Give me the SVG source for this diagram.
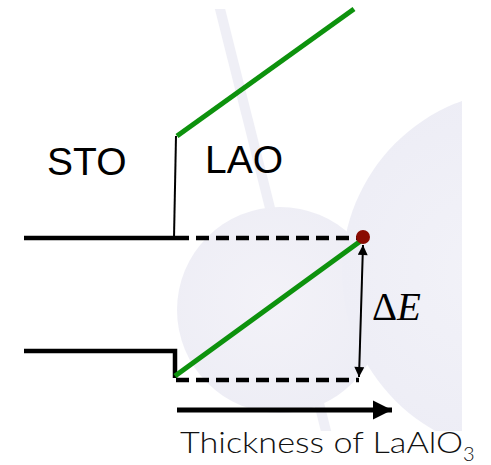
<svg xmlns="http://www.w3.org/2000/svg" width="491" height="465" viewBox="0 0 491 465">
<defs>
<style>
.band{stroke:#efeff6;stroke-width:10;fill:none}
.lvl{stroke:#000;stroke-width:4.5;fill:none}
.dash{stroke:#000;stroke-width:4.5;fill:none;stroke-dasharray:13 7}
.thin{stroke:#000;stroke-width:2;fill:none}
.grn{stroke:#0d920d;stroke-width:5;fill:none}
.lbl{font-family:"Liberation Sans",Arial,sans-serif;font-size:39px;fill:#000}
.ax{font-family:Lato,"Open Sans",sans-serif;font-size:30px;font-weight:300;fill:#111}
.de{font-family:"Liberation Serif","Times New Roman",serif;font-size:39px;fill:#000}
</style>
<clipPath id="clipbg"><rect x="0" y="9" width="462" height="422"/></clipPath>
<radialGradient id="gs" cx="0.45" cy="0.45" r="0.6">
<stop offset="0" stop-color="#f3f2f8"/><stop offset="1" stop-color="#ededf5"/>
</radialGradient>
<radialGradient id="gb" cx="0.4" cy="0.5" r="0.6">
<stop offset="0" stop-color="#f2f2f8"/><stop offset="1" stop-color="#ececf5"/>
</radialGradient>
<marker id="ah" viewBox="0 0 10 10" refX="10" refY="5" markerWidth="14" markerHeight="10" markerUnits="userSpaceOnUse" orient="auto-start-reverse">
<path d="M0,0 L10,5 L0,10 z" fill="#000"/>
</marker>
<marker id="ah2" viewBox="0 0 10 10" refX="10" refY="5" markerWidth="19" markerHeight="20" markerUnits="userSpaceOnUse" orient="auto">
<path d="M0,0 L10,5 L0,10 z" fill="#000"/>
</marker>
</defs>
<g id="background" clip-path="url(#clipbg)">
<line class="band" x1="219" y1="5" x2="327" y2="435"/>
<circle cx="280" cy="310" r="103" fill="url(#gs)"/>
<circle cx="524" cy="272" r="182" fill="url(#gb)"/>
</g>
<g id="connectors">
<line class="lvl" x1="24" y1="238" x2="176" y2="238"/>
<path class="thin" d="M176,136 L174,238"/>
<line class="dash" x1="176" y1="238" x2="360" y2="238"/>
<path class="lvl" d="M24,351 L175,351 L175,378"/>
<line class="dash" x1="176" y1="380" x2="359" y2="380"/>
<line class="grn" x1="177" y1="136" x2="354" y2="9"/>
<line class="grn" x1="175" y1="376" x2="362" y2="240"/>
<line class="thin" x1="363" y1="245" x2="359" y2="377" marker-start="url(#ah)" marker-end="url(#ah)"/>
<line stroke="#000" stroke-width="5" x1="177" y1="410" x2="392" y2="410" marker-end="url(#ah2)"/>
</g>
<g id="dot"><circle cx="363" cy="237" r="7" fill="#8a0b02"/></g>
<g id="sto"><text class="lbl" x="47" y="175">STO</text></g>
<g id="lao"><text class="lbl" x="205" y="173">LAO</text></g>
<g id="deltaE"><text class="de" x="372" y="320">Δ<tspan font-style="italic">E</tspan></text></g>
<g id="axis-label"><text class="ax" x="180" y="453"><tspan textLength="283" lengthAdjust="spacingAndGlyphs">Thickness of LaAlO</tspan><tspan font-size="20" dy="8">3</tspan></text></g>
</svg>
